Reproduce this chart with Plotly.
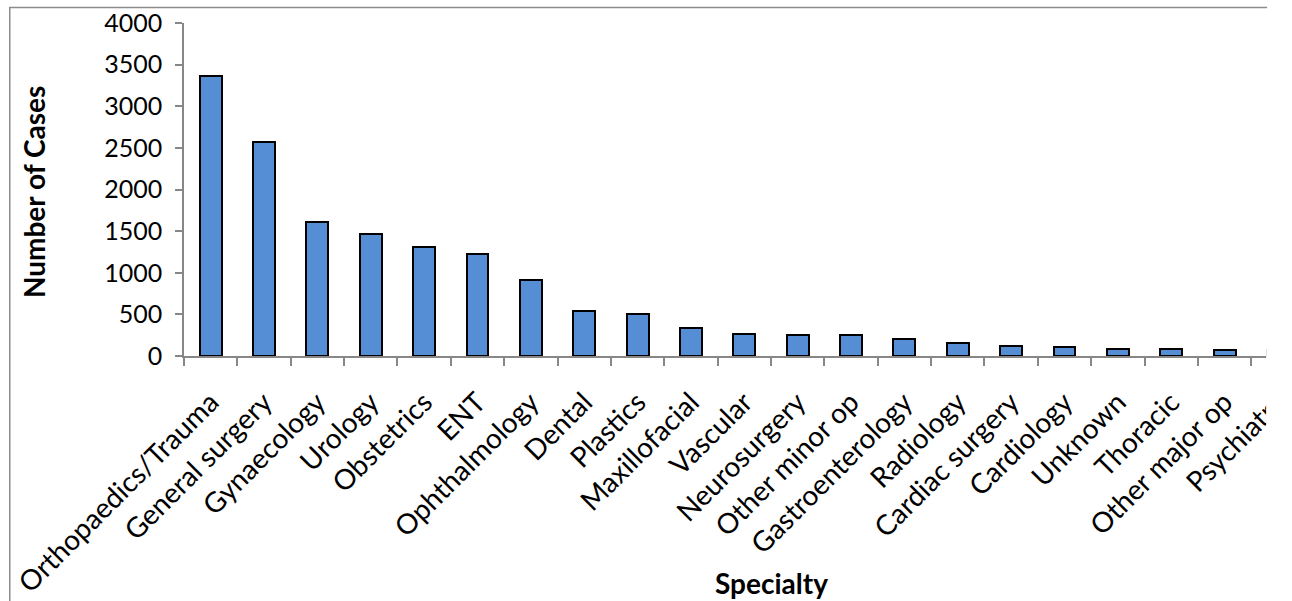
import plotly.graph_objects as go

specialties = [
    "Orthopaedics/Trauma", "General surgery", "Gynaecology", "Urology",
    "Obstetrics", "ENT", "Ophthalmology", "Dental", "Plastics",
    "Maxillofacial", "Vascular", "Neurosurgery", "Other minor op",
    "Gastroenterology", "Radiology", "Cardiac surgery", "Cardiology",
    "Unknown", "Thoracic", "Other major op", "Psychiatry",
]
cases = [
    3365, 2565, 1610, 1460, 1305, 1225, 912, 540, 505, 336,
    265, 247, 247, 200, 162, 120, 105, 90, 82, 75, 70,
]
y_ticks = [0, 500, 1000, 1500, 2000, 2500, 3000, 3500, 4000]

W, H = 1292, 601
L, R, T, B = 184, 0, 23, 245
PW, PH = W - L - R, H - T - B
CAT_PX = 53.75  # width of one category slot


def px_x(p):
    return (p - L) / PW


def px_y(p):
    return (H - B - p) / PH


FONT = "Lato, 'Open Sans', sans-serif"
AXIS_GREY = "#878787"

fig = go.Figure(
    go.Bar(
        x=specialties,
        y=cases,
        width=0.41,
        marker=dict(color="#558ED5", line=dict(color="#000000", width=2)),
    )
)

fig.update_layout(
    width=W,
    height=H,
    margin=dict(l=L, r=R, t=T, b=B, pad=0),
    paper_bgcolor="white",
    plot_bgcolor="white",
    showlegend=False,
    font=dict(family=FONT, size=20, color="#000000"),
    bargap=0,
)

fig.update_xaxes(
    type="category",
    range=[-0.5, -0.5 + PW / CAT_PX],
    tickangle=-45,
    tickson="boundaries",
    ticks="outside",
    ticklen=8,
    tickwidth=1.5,
    tickcolor=AXIS_GREY,
    showline=True,
    linecolor=AXIS_GREY,
    linewidth=1.5,
    showgrid=False,
    tickfont=dict(family=FONT, size=28, color="#000000"),
    ticklabelstandoff=17,
    fixedrange=True,
)

fig.update_yaxes(
    range=[0, 4000],
    tickvals=y_ticks,
    ticks="outside",
    ticklen=7,
    tickwidth=1.5,
    tickcolor=AXIS_GREY,
    showline=True,
    linecolor=AXIS_GREY,
    linewidth=1.5,
    showgrid=False,
    zeroline=False,
    tickfont=dict(family=FONT, size=25, color="#000000"),
    ticklabelstandoff=8,
    fixedrange=True,
)

# axis titles
fig.add_annotation(
    text="<b>Number of Cases</b>", xref="paper", yref="paper",
    x=px_x(33), y=px_y(192), textangle=-90, showarrow=False,
    font=dict(family=FONT, size=28, color="#000000"),
    xanchor="center", yanchor="middle",
)
fig.add_annotation(
    text="<b>Specialty</b>", xref="paper", yref="paper",
    x=px_x(776), y=px_y(583), showarrow=False,
    font=dict(family=FONT, size=28, color="#000000"),
    xanchor="center", yanchor="middle",
)

# chart frame: the visible part ends at the right edge
fig.add_shape(type="rect", xref="paper", yref="paper",
              x0=px_x(1274), x1=px_x(W + 5), y0=px_y(H + 5), y1=px_y(-5),
              fillcolor="white", line=dict(width=0), layer="above")
fig.add_shape(type="line", xref="paper", yref="paper",
              x0=px_x(8), x1=px_x(1275), y0=px_y(7.5), y1=px_y(7.5),
              line=dict(color="#8c8c8c", width=1.5), layer="above")
fig.add_shape(type="line", xref="paper", yref="paper",
              x0=px_x(8.5), x1=px_x(8.5), y0=px_y(7), y1=px_y(H + 5),
              line=dict(color="#8c8c8c", width=1.5), layer="above")

fig.write_html("out.html", config={"displayModeBar": False})
